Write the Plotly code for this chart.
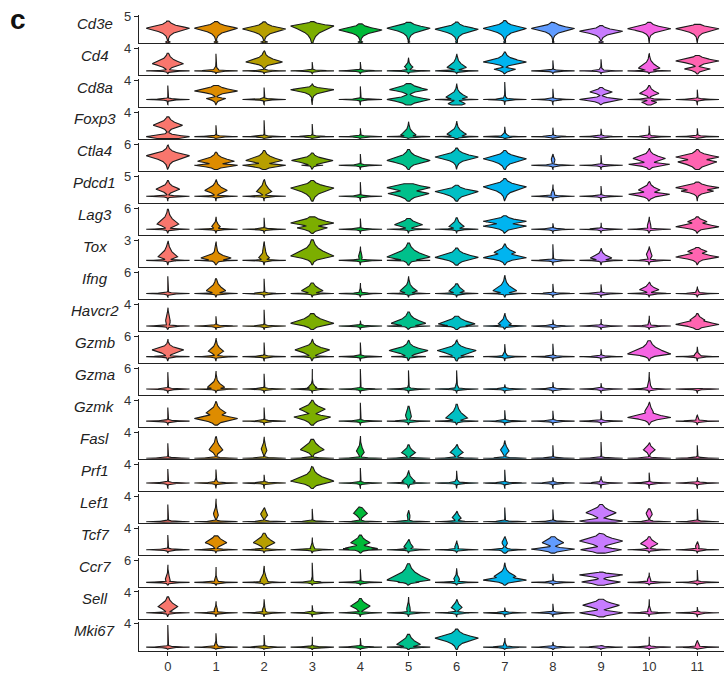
import numpy as np
import plotly.graph_objects as go

# ---------------------------------------------------------------- data
clusters = [str(i) for i in range(12)]
genes = ["Cd3e", "Cd4", "Cd8a", "Foxp3", "Ctla4", "Pdcd1", "Lag3", "Tox", "Ifng",
         "Havcr2", "Gzmb", "Gzma", "Gzmk", "Fasl", "Prf1", "Lef1", "Tcf7", "Ccr7",
         "Sell", "Mki67"]
tick_top = [5, 4, 4, 4, 6, 5, 6, 3, 6, 4, 6, 6, 4, 4, 4, 4, 4, 6, 4, 4]
axis_floor = [-0.30, -0.83, -1.70, -0.45, -1.73, -1.77, -1.73, -1.02, -1.58, -0.92,
              -1.88, -1.69, -1.10, -0.09, -1.64, -0.16, -0.92, -1.15, -1.10, -0.58]
cluster_colors = ["#F8766D", "#DE8C00", "#B79F00", "#7CAE00", "#00BA38", "#00C08B",
                  "#00BFC4", "#00B4F0", "#619CFF", "#C77CFF", "#F564E3", "#FF64B0"]

# each violin: (max expression, relative width of the zero mode,
#               [(mode, relative width, spread below, spread above), ...])
cd3e = [(4.15, 0.12, [(2.75, 1.0, 0.55, 0.42)]), (4.05, 0.10, [(2.75, 1.0, 0.55, 0.42)]),
        (4.0, 0.17, [(2.6, 1.0, 0.55, 0.42)]), (4.05, 0.03, [(3.2, 1.0, 0.9, 0.28)]),
        (3.6, 0.12, [(2.4, 1.0, 0.5, 0.4)]), (3.9, 0.05, [(2.75, 1.0, 0.55, 0.42)]),
        (3.95, 0.05, [(2.55, 1.0, 0.55, 0.42)]), (4.25, 0.05, [(2.7, 1.0, 0.55, 0.45)]),
        (3.95, 0.05, [(2.7, 1.0, 0.5, 0.4)]), (3.25, 0.12, [(2.15, 1.0, 0.45, 0.35)]),
        (3.9, 0.0, [(2.65, 1.0, 0.45, 0.4)]), (3.5, 0.0, [(2.65, 1.0, 0.5, 0.35)])]
cd4 = [(3.2, 1.0, [(1.3, 0.72, 0.4, 0.55)]), (3.1, 1.0, [(0.2, 0.12, 0.2, 0.25)]),
       (3.7, 1.0, [(1.6, 0.85, 0.3, 0.5)]), (1.6, 1.0, []), (1.6, 1.0, []),
       (2.4, 1.0, [(0.7, 0.2, 0.3, 0.35)]), (3.1, 1.0, [(0.6, 0.45, 0.2, 0.6)]),
       (3.4, 0.0, [(1.6, 1.0, 0.3, 0.45), (0.3, 0.5, 0.25, 0.15)]), (1.9, 1.0, []),
       (2.1, 1.0, [(0.2, 0.1, 0.2, 0.2)]), (3.1, 1.0, [(0.5, 0.5, 0.25, 0.6)]),
       (2.8, 0.0, [(1.8, 1.0, 0.35, 0.35), (0.35, 0.6, 0.25, 0.2)])]
cd8a = [(3.0, 1.0, []), (3.0, 0.0, [(1.8, 1.0, 0.35, 0.45), (0.2, 0.45, 0.3, 0.15)]),
        (2.55, 1.0, []), (3.4, 0.05, [(2.1, 1.0, 0.45, 0.25)]), (2.8, 1.0, []),
        (3.4, 0.0, [(2.1, 0.88, 0.35, 0.5), (0.0, 1.0, 0.45, 0.35)]),
        (3.4, 1.0, [(0.5, 0.5, 0.35, 0.6), (-0.9, 0.4, 0.35, 0.4)]),
        (3.75, 1.0, [(0.2, 0.08, 0.3, 0.3)]), (2.3, 1.0, []),
        (2.55, 0.0, [(1.6, 0.52, 0.3, 0.35), (0.0, 1.0, 0.3, 0.25)]),
        (3.0, 1.0, [(1.3, 0.45, 0.3, 0.5), (-0.6, 0.35, 0.3, 0.2)]), (2.1, 1.0, [])]
foxp3 = [(3.3, 0.0, [(1.9, 0.68, 0.35, 0.45), (0.0, 1.0, 0.3, 0.2)]), (1.9, 1.0, []),
         (2.75, 1.0, []), (2.1, 1.0, []), (1.4, 1.0, []),
         (2.5, 1.0, [(0.3, 0.35, 0.2, 0.5)]), (2.6, 1.0, [(0.4, 0.45, 0.3, 0.5)]),
         (1.65, 1.0, [(0.2, 0.15, 0.2, 0.2)]), (1.5, 1.0, []), (1.3, 1.0, []),
         (1.8, 1.0, [(0.1, 0.1, 0.15, 0.15)]), (1.4, 1.0, [])]
ctla4 = [(5.9, 0.1, [(2.8, 1.0, 0.9, 0.7)]),
         (3.8, 0.0, [(1.2, 0.85, 0.5, 0.7), (0.0, 1.0, 0.4, 0.3)]),
         (4.3, 0.0, [(1.4, 0.85, 0.5, 0.8), (0.0, 1.0, 0.4, 0.3)]),
         (3.6, 0.5, [(1.4, 0.96, 0.6, 0.6)]), (3.3, 1.0, []),
         (4.6, 0.0, [(1.4, 1.0, 0.7, 0.9)]), (5.0, 0.0, [(2.4, 1.0, 0.7, 0.7)]),
         (4.3, 0.05, [(1.9, 1.0, 0.8, 0.7)]), (3.3, 1.0, [(1.5, 0.1, 0.6, 0.6)]),
         (3.0, 1.0, []), (5.0, 0.0, [(2.0, 0.75, 0.7, 0.7), (0.3, 0.95, 0.4, 0.3)]),
         (4.6, 0.0, [(2.4, 1.0, 0.6, 0.6), (1.0, 0.9, 0.8, 0.6)])]
pdcd1 = [(4.0, 1.0, [(1.8, 0.55, 0.5, 0.6)]), (4.3, 1.0, [(1.5, 0.52, 0.5, 0.7)]),
         (4.3, 1.0, [(1.2, 0.35, 0.4, 0.9)]), (4.0, 0.0, [(2.1, 1.0, 0.9, 0.6)]),
         (3.6, 1.0, []), (3.2, 0.0, [(2.2, 1.0, 0.6, 0.5), (0.7, 0.95, 0.6, 0.5)]),
         (2.8, 0.0, [(1.2, 1.0, 0.7, 0.5)]), (4.5, 0.0, [(2.4, 1.0, 0.8, 0.6)]),
         (3.0, 1.0, [(0.5, 0.1, 0.5, 0.5)]), (2.6, 1.0, []),
         (3.8, 0.0, [(1.6, 0.5, 0.5, 0.6), (0.5, 0.95, 0.4, 0.3)]),
         (3.6, 0.0, [(2.2, 1.0, 0.5, 0.45), (1.3, 0.75, 0.4, 0.4)])]
lag3 = [(5.8, 1.0, [(1.5, 0.5, 0.6, 1.2)]), (3.6, 1.0, [(0.8, 0.2, 0.5, 0.6)]),
        (3.3, 1.0, []), (3.6, 0.0, [(1.8, 1.0, 0.5, 0.7), (0.4, 0.7, 0.5, 0.4)]),
        (3.1, 1.0, []), (3.1, 1.0, [(1.3, 0.65, 0.5, 0.7)]),
        (3.3, 1.0, [(0.8, 0.35, 0.4, 0.8)]),
        (3.9, 0.0, [(2.3, 1.0, 0.5, 0.5), (0.9, 1.0, 0.5, 0.5)]), (1.7, 1.0, []),
        (1.9, 1.0, []), (3.6, 1.0, [(0.8, 0.1, 0.8, 0.8)]),
        (3.6, 0.0, [(2.2, 0.45, 0.4, 0.5), (0.7, 1.0, 0.4, 0.6)])]
tox = [(2.94, 1.0, [(0.55, 0.45, 0.25, 0.6), (1.5, 0.15, 0.5, 0.5)]),
       (2.85, 1.0, [(0.35, 0.7, 0.25, 0.35), (0.9, 0.12, 0.6, 0.6)]),
       (2.85, 1.0, [(0.4, 0.25, 0.25, 0.4), (1.2, 0.08, 0.6, 0.6)]),
       (3.1, 0.0, [(0.65, 1.0, 0.3, 0.7)]), (2.1, 1.0, [(0.5, 0.1, 0.3, 0.4)]),
       (2.6, 1.0, [(0.5, 1.0, 0.3, 0.6)]), (1.85, 0.0, [(0.45, 1.0, 0.35, 0.4)]),
       (2.45, 0.0, [(0.4, 1.0, 0.25, 0.35), (1.2, 0.5, 0.3, 0.35)]), (2.45, 1.0, []),
       (1.85, 1.0, [(0.35, 0.5, 0.2, 0.35)]), (2.1, 1.0, [(0.8, 0.15, 0.4, 0.4)]),
       (1.95, 0.0, [(1.35, 0.45, 0.25, 0.25), (0.5, 1.0, 0.25, 0.3)])]
ifng = [(4.9, 1.0, []), (4.2, 1.0, [(0.8, 0.45, 0.4, 1.0)]), (4.2, 1.0, []),
        (3.0, 1.0, [(0.8, 0.5, 0.4, 0.8)]), (3.0, 1.0, [(0.5, 0.06, 0.5, 0.5)]),
        (4.9, 1.0, [(0.7, 0.4, 0.35, 0.9)]), (2.75, 1.0, [(0.7, 0.35, 0.35, 0.8)]),
        (5.2, 1.0, [(0.8, 0.55, 0.4, 1.0)]), (2.75, 1.0, []), (2.6, 1.0, []),
        (3.3, 1.0, [(1.1, 0.45, 0.4, 0.6)]), (2.0, 1.0, [(0.4, 0.08, 0.4, 0.4)])]
havcr2 = [(3.4, 1.0, [(0.8, 0.12, 0.6, 0.8)]), (1.8, 1.0, []), (3.0, 1.0, []),
          (2.3, 0.0, [(0.5, 1.0, 0.35, 0.6)]), (1.0, 1.0, []),
          (2.6, 1.0, [(0.5, 0.8, 0.3, 0.6)]), (1.8, 1.0, [(0.4, 0.85, 0.3, 0.5)]),
          (2.4, 1.0, [(0.4, 0.3, 0.3, 0.5)]), (1.2, 1.0, []), (1.3, 1.0, []),
          (1.9, 1.0, [(0.3, 0.06, 0.3, 0.3)]),
          (2.3, 0.0, [(1.1, 0.35, 0.3, 0.4), (0.3, 1.0, 0.3, 0.4)])]
gzmb = [(5.2, 1.0, [(2.0, 0.73, 0.7, 0.6)]), (5.5, 1.0, [(1.6, 0.35, 0.6, 0.9)]),
        (4.2, 1.0, []), (5.2, 1.0, [(2.0, 0.8, 0.8, 0.7)]), (4.2, 1.0, []),
        (4.9, 0.8, [(1.8, 0.9, 0.7, 0.7)]), (4.9, 0.8, [(1.8, 0.9, 0.8, 0.7)]),
        (3.7, 1.0, [(0.5, 0.1, 0.4, 0.4)]), (3.8, 1.0, []), (2.2, 1.0, []),
        (4.7, 0.0, [(0.8, 1.0, 0.4, 1.2)]), (2.9, 1.0, [(0.4, 0.15, 0.3, 0.4)])]
gzma = [(4.9, 1.0, []), (5.2, 1.0, [(0.5, 0.4, 0.3, 0.9)]), (4.4, 1.0, []),
        (5.8, 1.0, [(0.5, 0.2, 0.3, 0.5)]), (5.8, 1.0, []),
        (5.4, 1.0, [(0.3, 0.06, 0.3, 0.3)]), (5.4, 1.0, [(0.5, 0.08, 0.3, 0.5)]),
        (1.35, 1.0, []), (2.0, 1.0, []), (1.7, 1.0, []),
        (4.9, 1.0, [(0.3, 0.1, 0.5, 1.0)]), (0.2, 1.0, [])]
gzmk = [(2.6, 1.0, []), (3.7, 0.0, [(1.6, 0.45, 0.5, 0.6), (0.5, 1.0, 0.4, 0.4)]),
        (2.6, 1.0, []), (4.0, 0.0, [(2.3, 0.6, 0.5, 0.5), (0.8, 0.85, 0.5, 0.3)]),
        (3.5, 1.0, []), (2.85, 1.0, [(1.0, 0.15, 0.5, 0.8)]),
        (3.25, 1.0, [(0.6, 0.5, 0.3, 0.8)]), (2.1, 1.0, []), (2.0, 1.0, []),
        (2.0, 1.0, []), (3.7, 0.0, [(0.7, 1.0, 0.3, 0.4), (1.8, 0.22, 0.5, 0.6)]),
        (1.15, 1.0, [(0.3, 0.08, 0.3, 0.3)])]
fasl = [(2.3, 1.0, []), (3.3, 1.0, [(1.3, 0.32, 0.35, 0.6)]),
        (3.3, 1.0, [(1.3, 0.15, 0.35, 0.5)]), (2.9, 1.0, [(1.3, 0.55, 0.3, 0.6)]),
        (3.4, 1.0, [(1.0, 0.2, 0.35, 0.5)]), (2.05, 1.0, [(0.85, 0.32, 0.3, 0.4)]),
        (2.15, 1.0, [(0.9, 0.3, 0.3, 0.4)]), (2.7, 1.0, [(1.2, 0.22, 0.35, 0.4)]),
        (2.0, 1.0, []), (2.5, 1.0, []), (2.4, 1.0, [(1.3, 0.27, 0.3, 0.35)]),
        (2.0, 1.0, [])]
prf1 = [(2.95, 1.0, []), (2.85, 1.0, [(0.2, 0.08, 0.3, 0.3)]), (1.75, 1.0, []),
        (3.5, 0.0, [(0.4, 1.0, 0.45, 0.8)]), (3.2, 1.0, []),
        (2.7, 1.0, [(0.4, 0.3, 0.35, 0.6)]), (2.6, 1.0, [(0.2, 0.1, 0.3, 0.3)]),
        (2.8, 1.0, []), (1.2, 1.0, []), (1.4, 1.0, [(0.2, 0.08, 0.3, 0.3)]),
        (2.2, 1.0, []), (1.2, 1.0, [])]
lef1 = [(2.7, 1.0, []), (3.6, 1.0, [(1.15, 0.13, 0.35, 0.5)]),
        (2.2, 1.0, [(1.1, 0.18, 0.3, 0.4)]), (2.0, 1.0, []),
        (2.3, 1.0, [(1.3, 0.32, 0.35, 0.5)]), (1.8, 1.0, [(0.8, 0.08, 0.3, 0.4)]),
        (1.65, 1.0, [(0.6, 0.22, 0.25, 0.35)]), (2.2, 1.0, []), (1.9, 1.0, []),
        (2.7, 0.0, [(1.4, 0.7, 0.4, 0.45), (0.1, 1.0, 0.3, 0.2)]),
        (2.0, 1.0, [(1.2, 0.16, 0.3, 0.4)]), (2.0, 1.0, [])]
tcf7 = [(2.7, 1.0, []), (2.55, 1.0, [(1.3, 0.5, 0.4, 0.55)]),
        (3.05, 1.0, [(1.3, 0.5, 0.4, 0.6)]), (2.25, 1.0, [(0.3, 0.1, 0.3, 0.4)]),
        (2.7, 1.0, [(1.3, 0.45, 0.35, 0.5), (0.2, 0.8, 0.2, 0.3)]),
        (1.95, 1.0, [(0.5, 0.22, 0.25, 0.5)]), (1.7, 1.0, [(0.4, 0.1, 0.25, 0.4)]),
        (2.45, 1.0, [(1.3, 0.14, 0.4, 0.4), (0.0, 0.25, 0.3, 0.2)]),
        (2.4, 0.0, [(1.3, 0.5, 0.35, 0.5), (0.1, 1.0, 0.25, 0.2)]),
        (3.05, 0.0, [(1.6, 1.0, 0.45, 0.5), (0.0, 0.95, 0.3, 0.25)]),
        (2.4, 1.0, [(1.1, 0.4, 0.35, 0.45)]), (1.5, 1.0, [(0.5, 0.1, 0.3, 0.4)])]
ccr7 = [(4.7, 1.0, [(0.7, 0.13, 0.6, 0.8)]), (4.1, 1.0, [(0.5, 0.08, 0.5, 0.5)]),
        (4.4, 1.0, [(0.4, 0.2, 0.4, 0.9)]), (5.25, 1.0, [(0.3, 0.06, 0.4, 0.4)]),
        (3.5, 1.0, []), (5.0, 0.5, [(0.6, 1.0, 0.35, 1.3)]),
        (3.8, 1.0, [(0.8, 0.15, 0.5, 0.6)]),
        (5.25, 0.0, [(1.6, 0.5, 0.6, 0.8), (0.6, 1.0, 0.35, 0.5)]), (2.3, 1.0, []),
        (2.75, 0.0, [(2.0, 1.0, 0.4, 0.25), (0.1, 0.9, 0.4, 0.35)]),
        (2.6, 1.0, [(0.6, 0.1, 0.4, 0.4)]), (3.3, 1.0, [])]
sell = [(3.05, 1.0, [(1.2, 0.45, 0.5, 0.6)]), (2.2, 1.0, [(0.4, 0.1, 0.3, 0.4)]),
        (2.6, 1.0, [(0.4, 0.1, 0.3, 0.4)]), (1.45, 1.0, []),
        (2.75, 1.0, [(1.3, 0.45, 0.45, 0.5)]), (3.05, 1.0, [(0.6, 0.1, 0.4, 0.6)]),
        (2.6, 1.0, [(1.0, 0.25, 0.3, 0.5)]), (1.0, 1.0, []), (1.75, 1.0, []),
        (2.6, 0.0, [(1.45, 0.85, 0.4, 0.45), (0.0, 1.0, 0.3, 0.25)]),
        (2.6, 1.0, [(0.4, 0.08, 0.3, 0.4)]), (1.1, 1.0, [])]
mki67 = [(3.8, 1.0, []), (2.4, 1.0, [(0.2, 0.08, 0.3, 0.3)]), (2.1, 1.0, []),
         (1.8, 1.0, []), (1.55, 1.0, []), (2.2, 1.0, [(0.45, 0.55, 0.25, 0.6)]),
         (3.1, 0.0, [(1.55, 1.0, 0.5, 0.45)]), (1.55, 1.0, [(0.2, 0.08, 0.3, 0.3)]),
         (0.9, 1.0, []), (0.3, 1.0, []), (1.8, 1.0, []),
         (1.1, 1.0, [(0.3, 0.1, 0.25, 0.3)])]

violins = [cd3e, cd4, cd8a, foxp3, ctla4, pdcd1, lag3, tox, ifng, havcr2, gzmb,
           gzma, gzmk, fasl, prf1, lef1, tcf7, ccr7, sell, mki67]

# ---------------------------------------------------------------- layout geometry
W, H = 724, 674
M_L, M_R, M_T, M_B = 139, 0, 15, 18
PLOT_H = H - M_T - M_B
ROW_PITCH = 32.2
PANEL_H = 28.5
TICK_FROM_BOTTOM = 26.8
HALF_WIDTH = 0.45
X_RANGE = [-0.6, 11.554]
KERNEL_SCALE = 1.4     # spreads are read as distance-to-tip / 3
KERNEL_POWER = 1.25
OUTLINE = "#1c1c1c"


def row_bottom_px(i):
    return 43.7 + ROW_PITCH * i


def violin_path(k, top, w0, bodies, bot, s0):
    ys = np.linspace(bot, top, 800)
    keys = [0.0] + [b[0] for b in bodies]
    ys = np.unique(np.concatenate([ys, [v for v in keys if bot < v < top]]))
    w = w0 * np.exp(-np.abs(ys) / s0)
    for c, wd, sd, su in bodies:
        d = ys - c
        r = np.where(d < 0, -d / (sd * KERNEL_SCALE), d / (su * KERNEL_SCALE))
        w = np.maximum(w, wd * np.exp(-r ** KERNEL_POWER))
    half = HALF_WIDTH * np.maximum(w, 0.003)
    x = np.concatenate([k - half, (k + half)[::-1], [k - half[0]]])
    y = np.concatenate([ys, ys[::-1], [ys[0]]])
    return x, y


fig = go.Figure()
layout = dict(
    width=W, height=H,
    margin=dict(l=M_L, r=M_R, t=M_T, b=M_B, pad=0),
    paper_bgcolor="white", plot_bgcolor="white",
    showlegend=False,
    font=dict(family="Liberation Sans, Arial, sans-serif", color="#222222"),
)

annotations = []
n = len(genes)
for i, gene in enumerate(genes):
    T = tick_top[i]
    lo = axis_floor[i]
    ppu = TICK_FROM_BOTTOM / (T - lo)          # pixels per expression unit
    hi = lo + PANEL_H / ppu
    s0 = 0.45 / ppu                             # thickness of the zero mode
    bot = 0.7 * lo                              # lower end of the violin tails
    b_px = row_bottom_px(i)
    y0 = (H - M_B - b_px) / PLOT_H
    y1 = (H - M_B - (b_px - PANEL_H)) / PLOT_H
    sfx = "" if i == 0 else str(i + 1)

    for k, (top, w0, bodies) in enumerate(violins[i]):
        x, y = violin_path(k, top, w0, bodies, bot, s0)
        fig.add_trace(go.Scatter(
            x=x, y=y, mode="lines", fill="toself",
            fillcolor=cluster_colors[k],
            line=dict(color=OUTLINE, width=1.1),
            xaxis="x" + sfx, yaxis="y" + sfx,
            hoverinfo="skip", showlegend=False,
        ))

    last = i == n - 1
    layout["xaxis" + sfx] = dict(
        domain=[0, 1], range=X_RANGE, anchor="y" + sfx,
        showline=True, linecolor="#222222", linewidth=1.3,
        showgrid=False, zeroline=False,
        tickvals=list(range(len(clusters))), ticktext=clusters,
        showticklabels=last, ticks="outside" if last else "",
        ticklen=4, tickwidth=1, tickcolor="#222222",
        tickfont=dict(size=13, color="#333333"),
    )
    layout["yaxis" + sfx] = dict(
        domain=[max(0.0, y0), min(1.0, y1)], range=[lo, hi], anchor="x" + sfx,
        showline=True, linecolor="#222222", linewidth=1.3,
        showgrid=False, zeroline=False,
        tickvals=[T], ticktext=[str(T)], ticks="outside",
        ticklen=4, tickwidth=1, tickcolor="#222222",
        tickfont=dict(size=13, color="#333333"),
    )
    label_y = (H - M_B - (b_px - 20.5)) / PLOT_H
    annotations.append(dict(
        text="<i>%s</i>" % gene, x=(94.5 - M_L) / (W - M_L - M_R), y=label_y,
        xref="paper", yref="paper", xanchor="center", yanchor="middle",
        showarrow=False, font=dict(size=15, color="#222222"),
    ))

annotations.append(dict(
    text="<b>c</b>", x=(18 - M_L) / (W - M_L - M_R), y=(H - M_B - 20) / PLOT_H,
    xref="paper", yref="paper", xanchor="center", yanchor="middle",
    showarrow=False, font=dict(size=28, color="#111111"),
))
layout["annotations"] = annotations
fig.update_layout(**layout)

fig.write_html("out.html")
